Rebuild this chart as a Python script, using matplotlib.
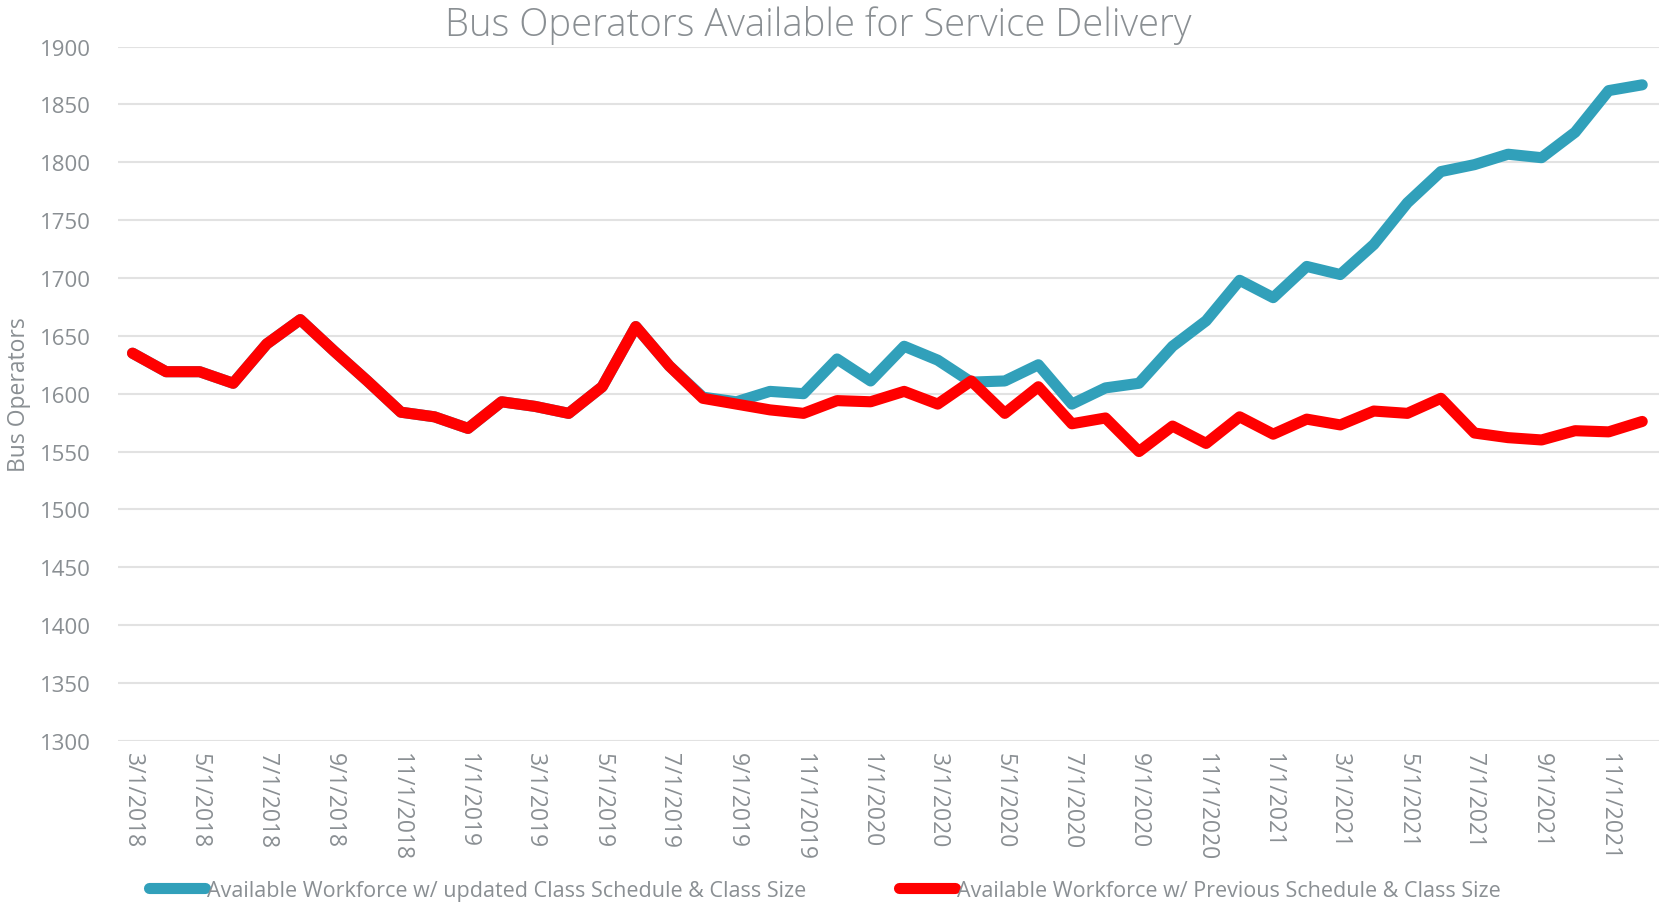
"""
Bus operators available for service delivery, monthly 2018-2021.
"""

import numpy as np
import matplotlib.pyplot as plt

# Monthly dates, 3/1/2018 .. 12/1/2021
months = [f"{m}/1/{y}" for y in range(2018, 2022) for m in range(1, 13)][2:]

updated_schedule = [
    1635, 1619, 1619, 1609, 1643, 1664, 1637, 1611, 1584, 1580,
    1570, 1593, 1589, 1583, 1606, 1658, 1624, 1597, 1593, 1602,
    1600, 1630, 1611, 1641, 1629, 1610, 1611, 1625, 1591, 1605,
    1609, 1641, 1663, 1698, 1683, 1710, 1703, 1729, 1765, 1792,
    1798, 1807, 1804, 1826, 1862, 1867,
]

previous_schedule = [
    1635, 1619, 1619, 1609, 1643, 1664, 1637, 1611, 1584, 1580,
    1570, 1593, 1589, 1583, 1606, 1658, 1624, 1596, 1591, 1586,
    1583, 1594, 1593, 1602, 1591, 1611, 1583, 1606, 1574, 1579,
    1550, 1572, 1557, 1580, 1565, 1578, 1573, 1585, 1583, 1596,
    1566, 1562, 1560, 1568, 1567, 1576,
]

TEXT_GRAY = '#8a8f93'
BLUE = '#31a0ba'
RED = '#ff0000'

plt.rcParams['font.family'] = ['Open Sans', 'DejaVu Sans']

fig = plt.figure(figsize=(16.59, 9.04), dpi=100)
ax = fig.add_axes([0.0714, 0.1795, 0.9286, 0.7678])

x = np.arange(len(months))
ax.plot(x, updated_schedule, color=BLUE, linewidth=8,
        solid_capstyle='round', solid_joinstyle='round',
        label='Available Workforce w/ updated Class Schedule & Class Size')
ax.plot(x, previous_schedule, color=RED, linewidth=8,
        solid_capstyle='round', solid_joinstyle='round',
        label='Available Workforce w/ Previous Schedule & Class Size')

ax.set_ylim(1300, 1900)
ax.set_yticks(np.arange(1300, 1901, 50))
ax.set_xlim(-0.42, 45.5)
ax.set_xticks(x[::2])
ax.set_xticklabels(months[::2], rotation=270, ha='center', va='top')

ax.grid(axis='y', color='#e2e2e2', linewidth=1.5)
ax.set_axisbelow(True)
for s in ax.spines.values():
    s.set_visible(False)
ax.tick_params(length=0, colors=TEXT_GRAY)
ax.tick_params(axis='x', labelsize=16.5, pad=8)
ax.tick_params(axis='y', labelsize=16, pad=20)

ax.set_ylabel('Bus Operators', fontsize=16.5, color=TEXT_GRAY)
ax.yaxis.set_label_coords(-0.057, 0.5)

fig.text(0.493, 0.972, 'Bus Operators Available for Service Delivery',
         ha='center', va='center', fontsize=27.5, color=TEXT_GRAY,
         fontweight='light')

fig.legend(loc='center', bbox_to_anchor=(0.497, 0.014), ncol=2,
           frameon=False, fontsize=15.5, labelcolor=TEXT_GRAY,
           handlelength=2.6, handletextpad=0.1, columnspacing=4.3)

plt.savefig('out.png', dpi=100)
plt.close()
